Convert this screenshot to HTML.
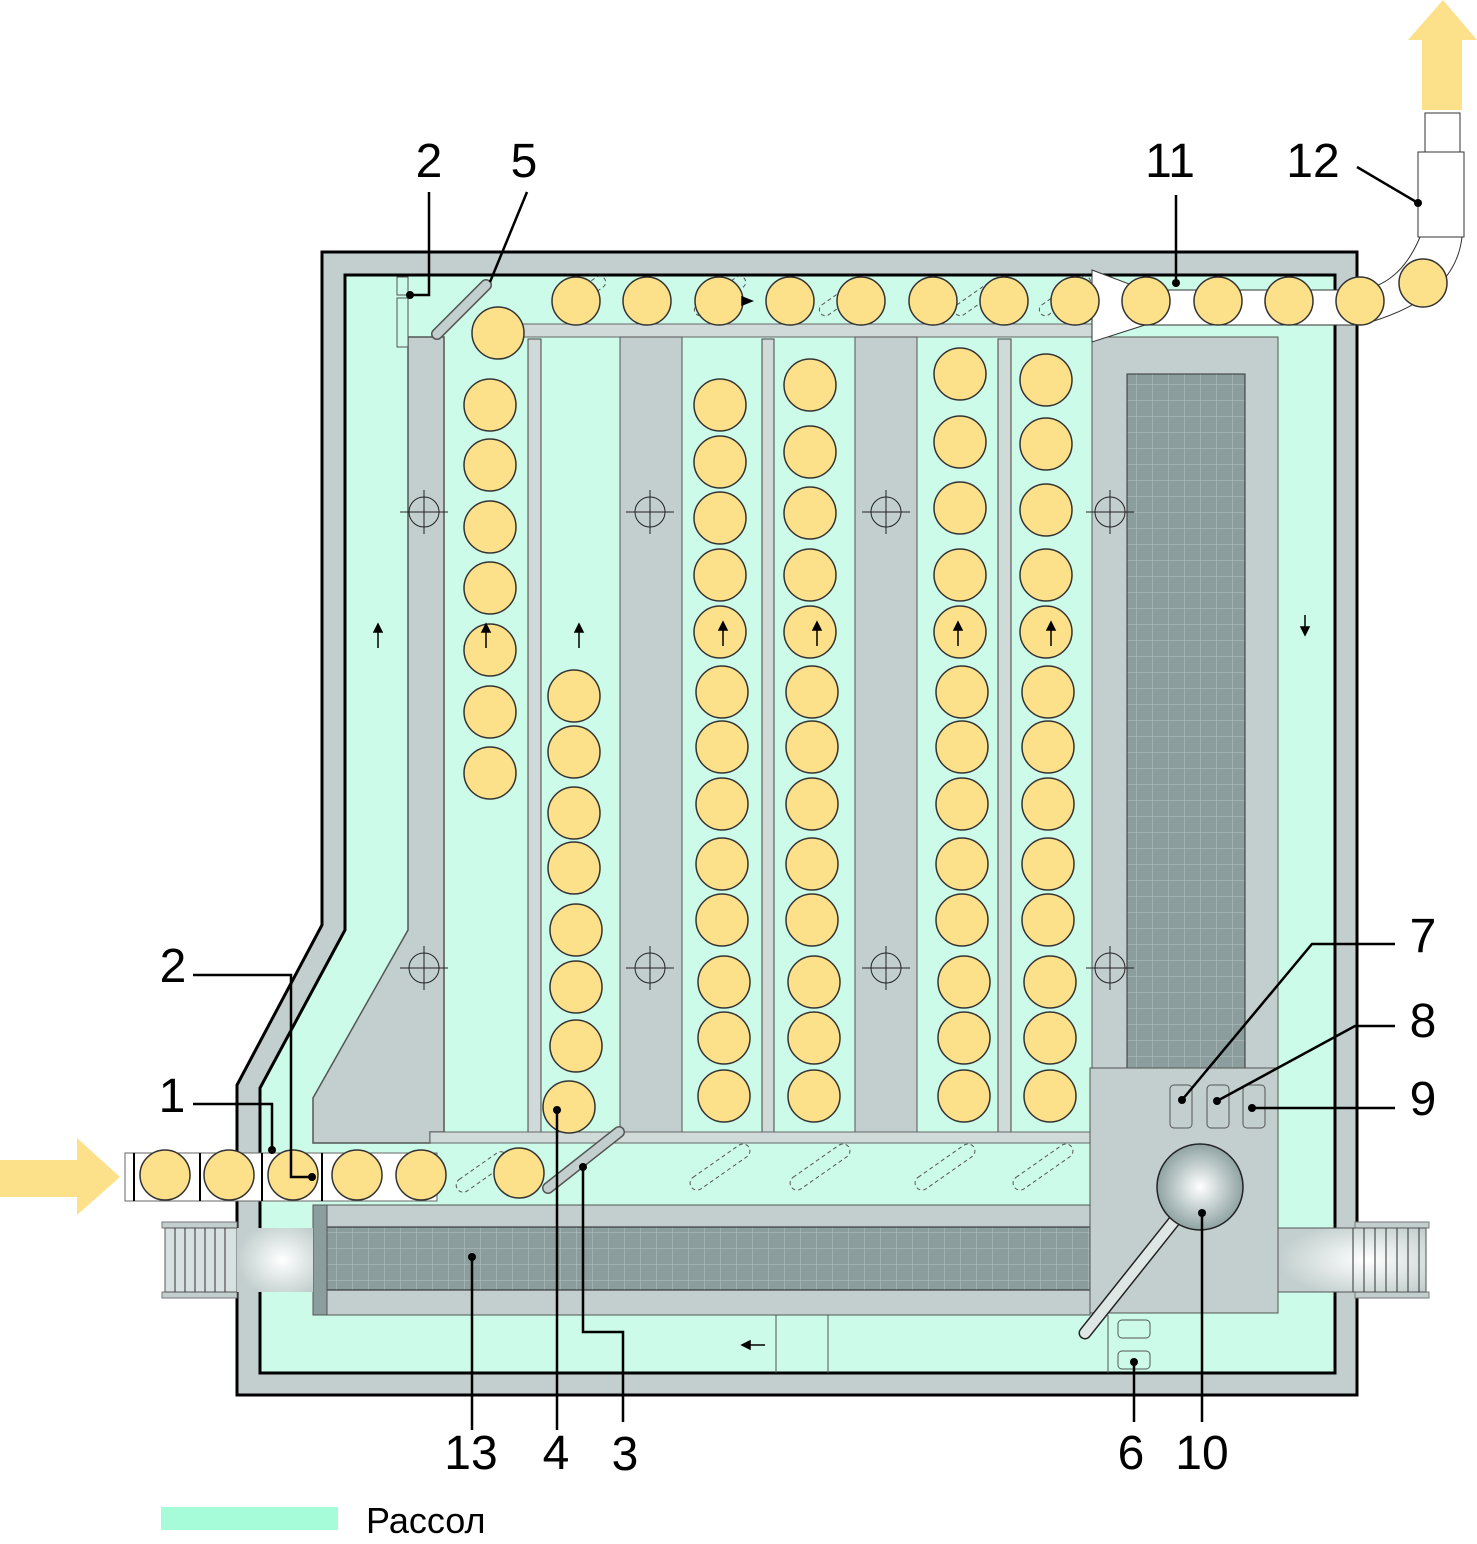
<!DOCTYPE html>
<html><head><meta charset="utf-8"><style>html,body{margin:0;padding:0;background:#fff}svg{display:block}</style></head>
<body>
<svg width="1477" height="1544" viewBox="0 0 1477 1544" xmlns="http://www.w3.org/2000/svg" font-family="Liberation Sans, sans-serif">
<defs>
<radialGradient id="sph" cx="0.5" cy="0.5" r="0.5"><stop offset="0" stop-color="#fff"/><stop offset="1" stop-color="#8fa3a3"/></radialGradient>
<linearGradient id="rod" x1="0" y1="0" x2="1" y2="0"><stop offset="0" stop-color="#8fa3a3"/><stop offset="0.5" stop-color="#fff"/><stop offset="1" stop-color="#8fa3a3"/></linearGradient>
<radialGradient id="pipeL" cx="0.6" cy="0.5" r="0.6"><stop offset="0" stop-color="#fff"/><stop offset="1" stop-color="#c2cfce"/></radialGradient>
<pattern id="mesh" width="16" height="16" patternUnits="userSpaceOnUse"><rect width="16" height="16" fill="#8b9e9d"/><path d="M0 0H16M0 0V16" stroke="#b5c4c3" stroke-width="1"/></pattern>
</defs>

<!-- arrows -->
<polygon points="0,1160 77,1160 77,1138 120,1177 77,1215 77,1197 0,1197" fill="#fde08a"/>
<polygon points="1422,110 1462,110 1462,40 1477,40 1443,0 1408,40 1422,40" fill="#fde08a"/>

<!-- outer wall -->
<polygon points="322,252 1357,252 1357,1395 237,1395 237,1085 322,925" fill="#c2cfce" stroke="#000" stroke-width="3"/>
<polygon points="345,275 1335,275 1335,1373 260,1373 260,1088 345,930" fill="#cdfbe9" stroke="#000" stroke-width="3"/>

<!-- left baffle -->
<polygon points="408,337 444,337 444,1132 430,1132 430,1143 313,1143 313,1098 408,930" fill="#c2cfce" stroke="#555" stroke-width="1.5"/>
<rect x="397" y="277" width="11" height="18" fill="#cdfbe9" stroke="#555"/>
<rect x="397" y="298" width="11" height="49" fill="#cdfbe9" stroke="#555"/>
<line x1="437" y1="334" x2="486" y2="285" stroke="#555" stroke-width="12" stroke-linecap="round"/>
<line x1="437" y1="334" x2="486" y2="285" stroke="#c2cfce" stroke-width="9" stroke-linecap="round"/>

<!-- top bar and partitions -->
<rect x="523" y="324" width="569" height="13" fill="#d0dad9" stroke="#666"/>
<rect x="528" y="339" width="13" height="793" fill="#d0dad9" stroke="#444"/>
<rect x="620" y="337" width="62" height="795" fill="#c2cfce" stroke="#555"/>
<rect x="762" y="339" width="12" height="793" fill="#d0dad9" stroke="#444"/>
<rect x="855" y="337" width="62" height="795" fill="#c2cfce" stroke="#555"/>
<rect x="998" y="339" width="13" height="793" fill="#d0dad9" stroke="#444"/>
<rect x="430" y="1132" width="662" height="11" fill="#d0dad9" stroke="#666"/>
<line x1="619" y1="1132" x2="548" y2="1188" stroke="#555" stroke-width="12" stroke-linecap="round"/>
<line x1="619" y1="1132" x2="548" y2="1188" stroke="#c2cfce" stroke-width="9" stroke-linecap="round"/>

<!-- right column -->
<rect x="1092" y="337" width="186" height="733" fill="#c2cfce" stroke="#555"/>
<rect x="1127" y="374" width="118" height="696" fill="url(#mesh)" stroke="#333"/>

<!-- dashed ghosts -->
<g fill="none" stroke="#555" stroke-dasharray="4,3" stroke-width="1">
<rect x="452" y="1165" width="60" height="14" rx="7" transform="rotate(-35 482 1172)"/>
<rect x="685" y="1160" width="70" height="14" rx="7" transform="rotate(-35 720 1167)"/>
<rect x="785" y="1160" width="70" height="14" rx="7" transform="rotate(-35 820 1167)"/>
<rect x="910" y="1160" width="70" height="14" rx="7" transform="rotate(-35 945 1167)"/>
<rect x="1008" y="1160" width="70" height="14" rx="7" transform="rotate(-35 1043 1167)"/>
<rect x="550" y="290" width="60" height="12" rx="6" transform="rotate(-35 580 296)"/>
<rect x="690" y="290" width="60" height="12" rx="6" transform="rotate(-35 720 296)"/>
<rect x="815" y="290" width="60" height="12" rx="6" transform="rotate(-35 845 296)"/>
<rect x="950" y="290" width="60" height="12" rx="6" transform="rotate(-35 980 296)"/>
<rect x="1035" y="290" width="60" height="12" rx="6" transform="rotate(-35 1065 296)"/>
</g>

<!-- bottom unit -->
<rect x="313" y="1205" width="777" height="110" fill="#c2cfce" stroke="#555"/>
<rect x="327" y="1227" width="763" height="63" fill="url(#mesh)" stroke="#222"/>
<rect x="313" y="1205" width="14" height="110" fill="#8b9e9d" stroke="#555"/>
<line x1="776" y1="1315" x2="776" y2="1373" stroke="#555"/>
<line x1="828" y1="1315" x2="828" y2="1373" stroke="#555"/>
<line x1="1108" y1="1315" x2="1108" y2="1373" stroke="#555"/>
<rect x="1118" y="1320" width="32" height="18" rx="4" fill="none" stroke="#555"/>
<rect x="1118" y="1351" width="32" height="18" rx="4" fill="none" stroke="#555"/>

<!-- control box -->
<rect x="1090" y="1068" width="188" height="245" fill="#c2cfce" stroke="#555"/>
<rect x="1170" y="1085" width="22" height="43" rx="4" fill="none" stroke="#555"/>
<rect x="1207" y="1085" width="22" height="43" rx="4" fill="none" stroke="#555"/>
<rect x="1243" y="1085" width="22" height="43" rx="4" fill="none" stroke="#555"/>
<line x1="1085" y1="1333" x2="1175" y2="1220" stroke="#222" stroke-width="13" stroke-linecap="round"/>
<line x1="1085" y1="1333" x2="1175" y2="1220" stroke="#dfe6e6" stroke-width="10" stroke-linecap="round"/>
<circle cx="1200" cy="1187" r="43" fill="url(#sph)" stroke="#222" stroke-width="1.5"/>

<!-- pipes -->
<rect x="162" y="1222" width="75" height="6" fill="#c2cfce" stroke="#777"/>
<rect x="162" y="1292" width="75" height="6" fill="#c2cfce" stroke="#777"/>
<rect x="165" y="1228" width="72" height="64" fill="#d8e1e1" stroke="#555"/>
<g stroke="#333" stroke-width="1"><line x1="175" y1="1228" x2="175" y2="1292"/><line x1="185" y1="1228" x2="185" y2="1292"/><line x1="195" y1="1228" x2="195" y2="1292"/><line x1="205" y1="1228" x2="205" y2="1292"/><line x1="215" y1="1228" x2="215" y2="1292"/><line x1="225" y1="1228" x2="225" y2="1292"/></g>
<rect x="237" y="1228" width="76" height="64" fill="url(#pipeL)"/>
<rect x="1355" y="1222" width="74" height="6" fill="#c2cfce" stroke="#777"/>
<rect x="1355" y="1292" width="74" height="6" fill="#c2cfce" stroke="#777"/>
<rect x="1278" y="1228" width="148" height="64" fill="url(#pipeL)" stroke="#555"/>
<g stroke="#333" stroke-width="1"><line x1="1353" y1="1228" x2="1353" y2="1292"/><line x1="1364" y1="1228" x2="1364" y2="1292"/><line x1="1375" y1="1228" x2="1375" y2="1292"/><line x1="1386" y1="1228" x2="1386" y2="1292"/><line x1="1397" y1="1228" x2="1397" y2="1292"/><line x1="1408" y1="1228" x2="1408" y2="1292"/><line x1="1419" y1="1228" x2="1419" y2="1292"/></g>

<!-- inlet conveyor -->
<rect x="125" y="1153" width="312" height="48" fill="#fff" stroke="#666"/>
<g stroke="#000" stroke-width="2"><line x1="134" y1="1153" x2="134" y2="1201"/><line x1="200" y1="1153" x2="200" y2="1201"/><line x1="262" y1="1153" x2="262" y2="1201"/><line x1="322" y1="1153" x2="322" y2="1201"/></g>

<!-- outlet conveyor -->
<path d="M1092,270 L1145,290 L1360,290 Q1400,285 1420,237 L1462,237 Q1455,300 1360,325 L1145,325 L1092,342 Z" fill="#fff" stroke="#333"/>
<rect x="1418" y="152" width="46" height="85" fill="#fff" stroke="#333"/>
<rect x="1425" y="113" width="35" height="39" fill="#fff" stroke="#333"/>

<!-- balls -->
<g fill="#fde08a" stroke="#333" stroke-width="1.5">
<circle cx="576" cy="301" r="24"/><circle cx="647" cy="301" r="24"/><circle cx="719" cy="301" r="24"/><circle cx="790" cy="301" r="24"/><circle cx="861" cy="301" r="24"/><circle cx="933" cy="301" r="24"/><circle cx="1004" cy="301" r="24"/><circle cx="1075" cy="301" r="24"/><circle cx="1146" cy="301" r="24"/><circle cx="1218" cy="301" r="24"/><circle cx="1289" cy="301" r="24"/><circle cx="1360" cy="301" r="24"/><circle cx="1423" cy="283" r="24"/>
<circle cx="498" cy="333" r="26"/>
<circle cx="490" cy="405" r="26"/><circle cx="490" cy="465" r="26"/><circle cx="490" cy="527" r="26"/><circle cx="490" cy="588" r="26"/><circle cx="490" cy="650" r="26"/><circle cx="490" cy="712" r="26"/><circle cx="490" cy="773" r="26"/>
<circle cx="574" cy="696" r="26"/><circle cx="574" cy="752" r="26"/><circle cx="574" cy="813" r="26"/><circle cx="574" cy="868" r="26"/><circle cx="576" cy="930" r="26"/><circle cx="576" cy="987" r="26"/><circle cx="576" cy="1046" r="26"/><circle cx="569" cy="1107" r="26"/>
<circle cx="720" cy="405" r="26"/><circle cx="720" cy="462" r="26"/><circle cx="720" cy="518" r="26"/><circle cx="720" cy="575" r="26"/><circle cx="720" cy="632" r="26"/><circle cx="722" cy="692" r="26"/><circle cx="722" cy="747" r="26"/><circle cx="722" cy="804" r="26"/><circle cx="722" cy="864" r="26"/><circle cx="722" cy="920" r="26"/><circle cx="724" cy="982" r="26"/><circle cx="724" cy="1038" r="26"/><circle cx="724" cy="1096" r="26"/>
<circle cx="810" cy="385" r="26"/><circle cx="810" cy="452" r="26"/><circle cx="810" cy="513" r="26"/><circle cx="810" cy="575" r="26"/><circle cx="810" cy="632" r="26"/><circle cx="812" cy="692" r="26"/><circle cx="812" cy="747" r="26"/><circle cx="812" cy="804" r="26"/><circle cx="812" cy="864" r="26"/><circle cx="812" cy="920" r="26"/><circle cx="814" cy="982" r="26"/><circle cx="814" cy="1038" r="26"/><circle cx="814" cy="1096" r="26"/>
<circle cx="960" cy="374" r="26"/><circle cx="960" cy="442" r="26"/><circle cx="960" cy="508" r="26"/><circle cx="960" cy="575" r="26"/><circle cx="960" cy="632" r="26"/><circle cx="962" cy="692" r="26"/><circle cx="962" cy="747" r="26"/><circle cx="962" cy="804" r="26"/><circle cx="962" cy="864" r="26"/><circle cx="962" cy="920" r="26"/><circle cx="964" cy="982" r="26"/><circle cx="964" cy="1038" r="26"/><circle cx="964" cy="1096" r="26"/>
<circle cx="1046" cy="380" r="26"/><circle cx="1046" cy="444" r="26"/><circle cx="1046" cy="510" r="26"/><circle cx="1046" cy="575" r="26"/><circle cx="1046" cy="632" r="26"/><circle cx="1048" cy="692" r="26"/><circle cx="1048" cy="747" r="26"/><circle cx="1048" cy="804" r="26"/><circle cx="1048" cy="864" r="26"/><circle cx="1048" cy="920" r="26"/><circle cx="1050" cy="982" r="26"/><circle cx="1050" cy="1038" r="26"/><circle cx="1050" cy="1096" r="26"/>
<circle cx="165" cy="1175" r="25"/><circle cx="229" cy="1175" r="25"/><circle cx="293" cy="1175" r="25"/><circle cx="357" cy="1175" r="25"/><circle cx="421" cy="1175" r="25"/><circle cx="519" cy="1173" r="25"/>
</g>

<!-- crosshairs -->
<g fill="none" stroke="#222" stroke-width="1">
<g id="ch"><circle cx="424" cy="512" r="15"/><path d="M400,512H448M424,490V534"/></g>
<circle cx="650" cy="512" r="15"/><path d="M626,512H674M650,490V534"/>
<circle cx="886" cy="512" r="15"/><path d="M862,512H910M886,490V534"/>
<circle cx="1110" cy="512" r="15"/><path d="M1086,512H1134M1110,490V534"/>
<circle cx="424" cy="968" r="15"/><path d="M400,968H448M424,946V990"/>
<circle cx="650" cy="968" r="15"/><path d="M626,968H674M650,946V990"/>
<circle cx="886" cy="968" r="15"/><path d="M862,968H910M886,946V990"/>
<circle cx="1110" cy="968" r="15"/><path d="M1086,968H1134M1110,946V990"/>
</g>

<!-- flow arrows -->
<g stroke="#000" stroke-width="1.5" fill="#000">
<line x1="378" y1="648" x2="378" y2="630"/><polygon points="374,632 382,632 378,624"/>
<line x1="486" y1="648" x2="486" y2="630"/><polygon points="482,632 490,632 486,624"/>
<line x1="579" y1="648" x2="579" y2="630"/><polygon points="575,632 583,632 579,624"/>
<line x1="723" y1="646" x2="723" y2="628"/><polygon points="719,630 727,630 723,622"/>
<line x1="817" y1="646" x2="817" y2="628"/><polygon points="813,630 821,630 817,622"/>
<line x1="958" y1="646" x2="958" y2="628"/><polygon points="954,630 962,630 958,622"/>
<line x1="1051" y1="646" x2="1051" y2="628"/><polygon points="1047,630 1055,630 1051,622"/>
<line x1="1305" y1="615" x2="1305" y2="630"/><polygon points="1301,627 1309,627 1305,635"/>
<line x1="765" y1="1345" x2="748" y2="1345"/><polygon points="750,1341 750,1349 742,1345"/>
<polygon points="742,297 742,305 752,301"/>
</g>

<!-- leaders -->
<g fill="none" stroke="#000" stroke-width="2.5">
<path d="M429,192V295H410"/><path d="M527,192L490,282"/><path d="M1176,195V283"/><path d="M1357,167L1418,203"/>
<path d="M193,975H291V1177H312"/><path d="M193,1104H272V1150"/>
<path d="M1395,944H1312L1182,1100"/><path d="M1395,1026H1355L1217,1101"/><path d="M1395,1108H1252"/>
<path d="M472,1430V1257"/><path d="M557,1430V1110"/><path d="M623,1422V1332H583V1167"/>
<path d="M1134,1422V1362"/><path d="M1202,1422V1213"/>
</g>
<g fill="#000">
<circle cx="410" cy="295" r="4"/><circle cx="1176" cy="283" r="4"/><circle cx="1418" cy="203" r="4"/><circle cx="312" cy="1177" r="4"/><circle cx="272" cy="1150" r="4"/><circle cx="1182" cy="1100" r="4"/><circle cx="1217" cy="1101" r="4"/><circle cx="1252" cy="1108" r="4"/><circle cx="472" cy="1257" r="4"/><circle cx="557" cy="1110" r="4"/><circle cx="583" cy="1167" r="4"/><circle cx="1134" cy="1362" r="4"/><circle cx="1202" cy="1213" r="4"/>
</g>

<!-- labels -->
<g font-size="48" fill="#000" text-anchor="middle">
<text x="429" y="177">2</text><text x="524" y="177">5</text><text x="1170" y="177">11</text><text x="1313" y="177">12</text>
<text x="173" y="982">2</text><text x="172" y="1112">1</text>
<text x="1423" y="952">7</text><text x="1423" y="1037">8</text><text x="1423" y="1115">9</text>
<text x="471" y="1469">13</text><text x="556" y="1469">4</text><text x="625" y="1470">3</text><text x="1131" y="1469">6</text><text x="1202" y="1469">10</text>
</g>

<!-- legend -->
<rect x="161" y="1507" width="177" height="23" fill="#a6fcd9"/>
<text x="366" y="1533" font-size="36" fill="#000">Рассол</text>
</svg>
</body></html>
